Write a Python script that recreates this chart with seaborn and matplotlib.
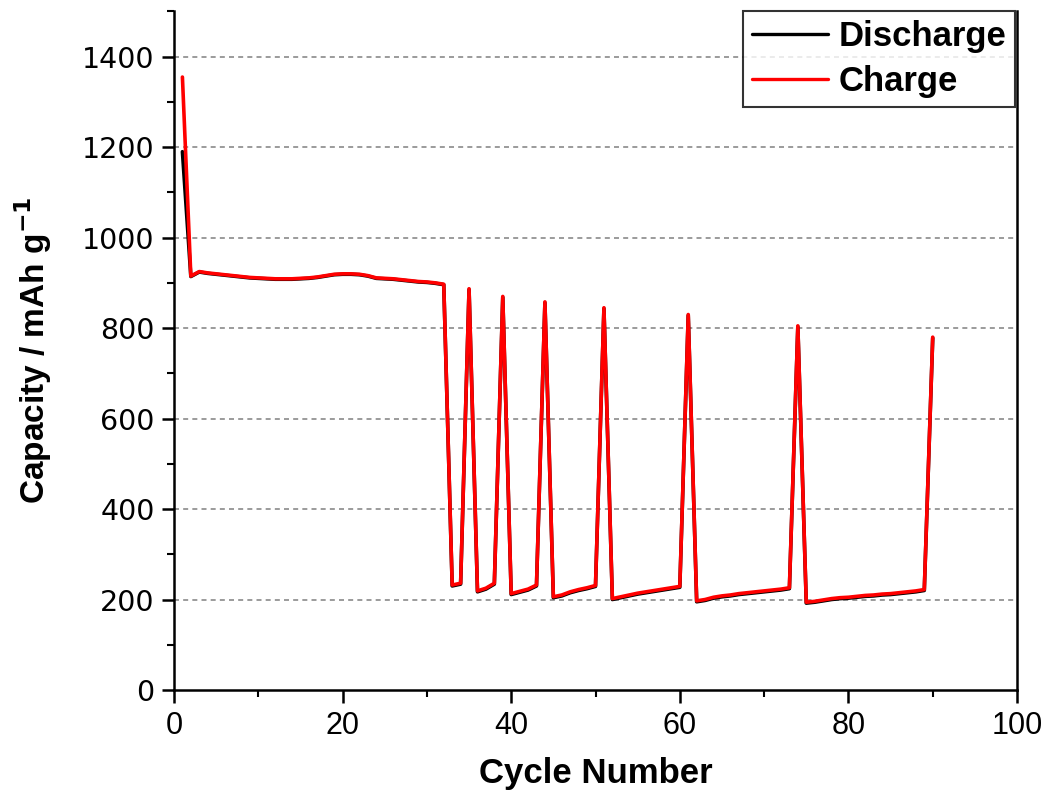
import numpy as np
import pandas as pd
import matplotlib
matplotlib.use("Agg")
import matplotlib.pyplot as plt
from matplotlib.ticker import MultipleLocator
import seaborn as sns

# Cycle index and specific capacities (mAh/g)
cycles = list(range(1, 91))

charge = [
    1355, 915, 925, 922, 920, 918, 916, 914, 912, 911,
    910, 909, 909, 909, 910, 911, 913, 916, 919, 920,
    920, 919, 916, 911, 910, 909, 907, 905, 903, 902,
    900, 897, 232, 236, 887, 219, 225, 236, 870, 213,
    218, 223, 232, 858, 206, 210, 217, 222, 226, 231,
    845, 202, 206, 210, 214, 217, 220, 223, 226, 229,
    830, 197, 200, 205, 208, 210, 213, 215, 217, 219,
    221, 223, 226, 805, 194, 196, 199, 202, 204, 205,
    207, 209, 210, 212, 213, 215, 217, 219, 222, 780,
]

discharge = [
    1190, 914, 924, 921, 919, 917, 915, 913, 911, 910,
    909, 908, 908, 908, 909, 910, 912, 915, 918, 919,
    919, 918, 915, 910, 909, 908, 906, 904, 902, 901,
    899, 896, 230, 234, 885, 217, 223, 234, 868, 211,
    216, 221, 230, 856, 204, 208, 215, 220, 224, 229,
    843, 200, 204, 208, 212, 215, 218, 221, 224, 227,
    828, 195, 198, 203, 206, 208, 211, 213, 215, 217,
    219, 221, 224, 803, 192, 194, 197, 200, 202, 203,
    205, 207, 208, 210, 211, 213, 215, 217, 220, 778,
]

df = pd.DataFrame({"cycle": cycles, "Discharge": discharge, "Charge": charge})

sns.set_theme(style="white")
plt.rcParams["font.family"] = ["DejaVu Sans"]
plt.rcParams["text.color"] = "black"
plt.rcParams["axes.labelcolor"] = "black"
plt.rcParams["xtick.color"] = "black"
plt.rcParams["ytick.color"] = "black"

fig = plt.figure(figsize=(10.5, 7.96), dpi=100)
ax = fig.add_axes([0.1657, 0.1332, 0.8029, 0.8524])

sns.lineplot(data=df, x="cycle", y="Discharge", ax=ax, color="black",
             linewidth=2.6, label="Discharge")
sns.lineplot(data=df, x="cycle", y="Charge", ax=ax, color="#ff0000",
             linewidth=2.6, label="Charge")

ax.set_xlim(0, 100)
ax.set_ylim(0, 1500)
ax.xaxis.set_major_locator(MultipleLocator(20))
ax.xaxis.set_minor_locator(MultipleLocator(10))
ax.yaxis.set_minor_locator(MultipleLocator(100))
ax.set_yticks([0, 200, 400, 600, 800, 1000, 1200, 1400])

# dashed horizontal guide lines
for yv in [200, 400, 600, 800, 1000, 1200, 1400]:
    ax.axhline(yv, color="#8a8a8a", linestyle=(0, (3, 2.5)), linewidth=1.2, zorder=0)

for side in ["left", "bottom", "right"]:
    ax.spines[side].set_visible(True)
    ax.spines[side].set_color("black")
    ax.spines[side].set_linewidth(1.8)
ax.spines["top"].set_visible(False)

ax.tick_params(axis="both", which="both", direction="out", color="black",
               labelcolor="black", bottom=True, left=True, right=False, top=False)
ax.tick_params(axis="both", which="major", length=9, width=1.8)
ax.tick_params(axis="both", which="minor", length=5, width=1.5)
ax.tick_params(axis="y", which="major", pad=5)
ax.tick_params(axis="x", which="major", pad=6)

narrow = ["Liberation Sans Narrow", "Liberation Sans", "DejaVu Sans"]
for lab in ax.get_yticklabels():
    lab.set_fontfamily(["DejaVu Sans"])
    lab.set_fontsize(20.5)
for lab in ax.get_xticklabels():
    lab.set_fontfamily(narrow)
    lab.set_fontsize(22)

ax.set_xlabel("Cycle Number", fontsize=25, fontweight="bold", family=narrow, labelpad=12)
ax.set_ylabel("Capacity / mAh g$^{\\mathbf{-1}}$", fontsize=24, fontweight="bold",
              family=narrow, labelpad=20)

leg = ax.legend(loc="upper right", bbox_to_anchor=(0.998, 1.0), frameon=True,
                fancybox=False, edgecolor="black", handlelength=2.2,
                handletextpad=0.3, borderpad=0.25, labelspacing=0.34,
                borderaxespad=0.0,
                prop={"family": ["Liberation Sans", "DejaVu Sans"], "weight": "bold", "size": 25})
leg.get_frame().set_linewidth(1.5)
for h in leg.get_lines():
    h.set_linewidth(2.4)

fig.savefig("out.png", dpi=100, facecolor="white")
